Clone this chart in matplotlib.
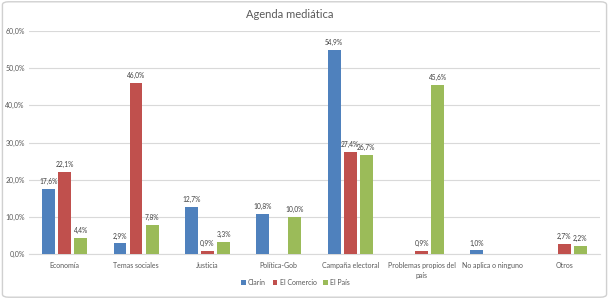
import matplotlib
matplotlib.use("Agg")
import matplotlib.pyplot as plt
import numpy as np
from matplotlib.patches import FancyBboxPatch

categories = ["Economía", "Temas sociales", "Justicia", "Política-Gob",
              "Campaña electoral", "Problemas propios del\npaís",
              "No aplica o ninguno", "Otros"]
series_names = ["Clarín", "El Comercio", "El País"]
clarin = [17.6, 2.9, 12.7, 10.8, 54.9, np.nan, 1.0, np.nan]
comercio = [22.1, 46.0, 0.9, np.nan, 27.4, 0.9, np.nan, 2.7]
pais = [4.4, 7.8, 3.3, 10.0, 26.7, 45.6, np.nan, 2.2]
yticks = [0, 10, 20, 30, 40, 50, 60]

colors = ["#4F81BD", "#C0504D", "#9BBB59"]
plt.rcParams['font.family'] = ['Lato', 'DejaVu Sans']
txt = "#595959"

fig = plt.figure(figsize=(6.09, 2.99), dpi=100)
ax = fig.add_axes([0.0476, 0.1505, 0.9375, 0.7458])

x = np.arange(len(categories))
w = 0.18
off = 0.225
for i, (vals, name) in enumerate(zip([clarin, comercio, pais], series_names)):
    xs = x + (i - 1) * off
    ax.bar(xs, vals, width=w, color=colors[i], label=name, zorder=3)
    for xi, v in zip(xs, vals):
        if not np.isnan(v):
            ax.text(xi, v + 1.0, f"{v:.1f}%".replace(".", ","), ha="center",
                    va="bottom", fontsize=4.8, color="#404040")

ax.set_xlim(-0.5, len(categories) - 0.5)
ax.set_ylim(0, 60)
ax.set_yticks(yticks)
ax.set_yticklabels([f"{t:.1f}%".replace(".", ",") for t in yticks], fontsize=5, color=txt)
ax.set_xticks(x)
ax.set_xticklabels(categories, fontsize=5, color=txt, linespacing=1.5)
ax.tick_params(axis="x", length=0, pad=6)
ax.tick_params(axis="y", length=0, pad=3)
ax.grid(axis="y", color="#D9D9D9", linewidth=0.8, zorder=0)
for s in ["top", "right", "left"]:
    ax.spines[s].set_visible(False)
ax.spines["bottom"].set_color("#D9D9D9")

fig.text(0.475, 0.95, "Agenda mediática", ha="center", va="center", fontsize=8, color=txt)
fig.legend(loc="center", bbox_to_anchor=(0.485, 0.055), ncol=3, fontsize=5,
           frameon=False, handlelength=0.7, handleheight=0.7, columnspacing=1.0,
           handletextpad=0.3, labelcolor=txt)

border = FancyBboxPatch((0.004, 0.006), 0.992, 0.988, boxstyle="round,pad=0,rounding_size=0.01",
                        transform=fig.transFigure, fill=False, edgecolor="#D0D0D0", linewidth=1)
fig.patches.append(border)

fig.savefig("out.png", dpi=100)
